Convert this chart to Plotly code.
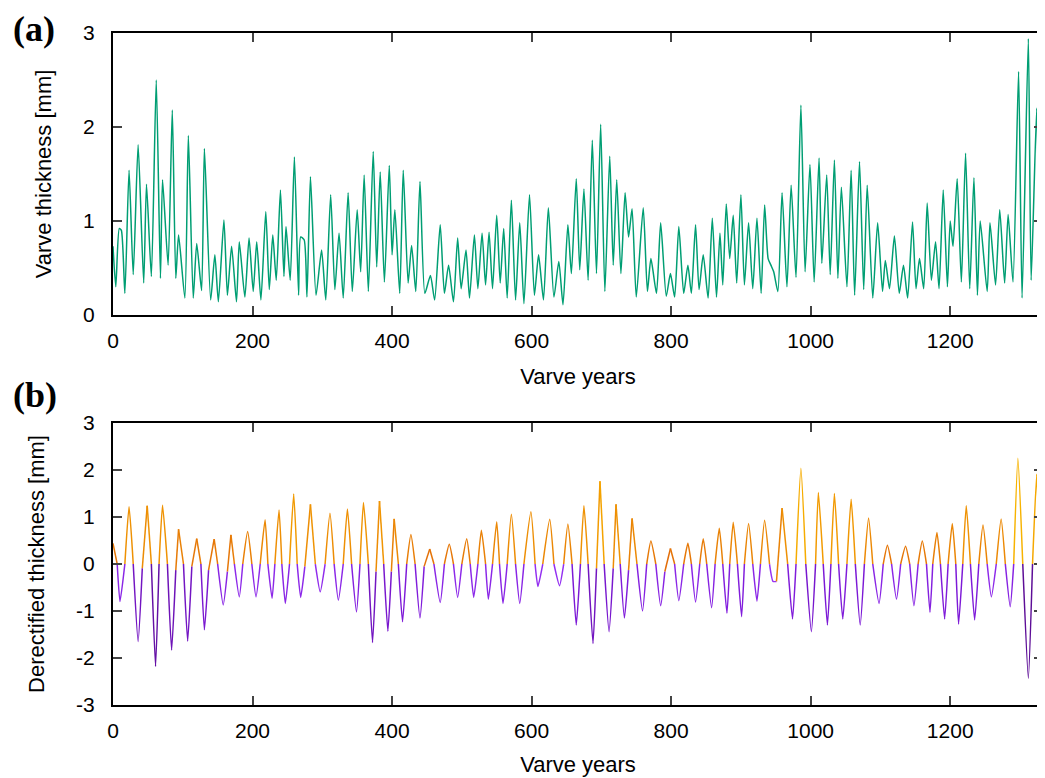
import plotly.graph_objects as go

# ---------------- data ----------------
years_a = [0, 4, 9, 12, 17, 23, 29, 36, 44, 48, 55, 62, 68, 71, 79, 85, 90, 94, 103, 108,
           115, 120, 127, 131, 140, 146, 151, 159, 164, 170, 177, 181, 189, 195, 201, 206,
           212, 219, 224, 229, 234, 240, 245, 248, 254, 260, 266, 269, 274, 278, 283, 291,
           299, 305, 312, 318, 324, 330, 337, 343, 350, 355, 360, 366, 373, 378, 383, 389,
           396, 400, 404, 411, 416, 423, 428, 434, 440, 447, 455, 461, 469, 475, 481, 488,
           494, 499, 506, 511, 518, 523, 529, 534, 539, 544, 550, 555, 560, 565, 571, 577,
           583, 589, 597, 604, 610, 617, 624, 632, 639, 645, 652, 657, 664, 669, 675, 681,
           687, 693, 699, 705, 712, 717, 722, 728, 734, 739, 744, 750, 760, 766, 771, 779,
           785, 793, 799, 805, 811, 818, 824, 829, 835, 840, 846, 853, 859, 865, 870, 874,
           879, 884, 889, 894, 900, 905, 911, 917, 923, 929, 934, 939, 943, 947, 953, 959,
           966, 972, 979, 986, 992, 999, 1005, 1012, 1016, 1023, 1028, 1034, 1039, 1044,
           1052, 1058, 1063, 1070, 1076, 1081, 1089, 1096, 1103, 1107, 1113, 1120, 1127,
           1133, 1139, 1146, 1151, 1156, 1162, 1167, 1173, 1179, 1184, 1190, 1196, 1200,
           1204, 1210, 1216, 1222, 1228, 1234, 1239, 1243, 1253, 1257, 1265, 1271, 1278,
           1283, 1290, 1298, 1303, 1312, 1316, 1324, 1328, 1332]
thick_a = [0.73, 0.30, 0.92, 0.90, 0.23, 1.54, 0.43, 1.81, 0.34, 1.39, 0.41, 2.50, 0.39, 1.44,
           0.53, 2.18, 0.39, 0.85, 0.18, 1.91, 0.18, 0.76, 0.26, 1.77, 0.16, 0.64, 0.14, 1.01,
           0.21, 0.73, 0.14, 0.78, 0.19, 0.82, 0.25, 0.78, 0.16, 1.10, 0.27, 0.85, 0.37, 1.33,
           0.41, 0.94, 0.37, 1.68, 0.21, 0.83, 0.80, 0.19, 1.47, 0.21, 0.69, 0.16, 1.28, 0.27,
           0.87, 0.18, 1.30, 0.25, 1.12, 0.46, 1.49, 0.25, 1.74, 0.51, 1.52, 0.35, 1.59, 0.64,
           1.12, 0.23, 1.54, 0.34, 0.74, 0.25, 1.42, 0.23, 0.42, 0.16, 0.96, 0.23, 0.53, 0.14,
           0.82, 0.28, 0.69, 0.18, 0.85, 0.28, 0.87, 0.32, 0.88, 0.28, 1.06, 0.34, 0.92, 0.18,
           1.22, 0.16, 0.98, 0.12, 1.28, 0.21, 0.64, 0.16, 1.14, 0.19, 0.57, 0.11, 0.96, 0.44,
           1.45, 0.48, 1.34, 0.37, 1.86, 0.44, 2.03, 0.25, 1.69, 0.53, 1.44, 0.44, 1.30, 0.83,
           1.13, 0.19, 1.14, 0.25, 0.60, 0.23, 0.98, 0.20, 0.44, 0.19, 0.94, 0.23, 0.53, 0.23,
           0.96, 0.27, 0.64, 0.18, 1.03, 0.19, 0.87, 0.32, 1.18, 0.60, 1.06, 0.34, 1.28, 0.32,
           0.98, 0.28, 1.03, 0.23, 1.17, 0.60, 0.53, 0.46, 0.25, 1.30, 0.30, 1.38, 0.40, 2.23,
           0.46, 1.60, 0.35, 1.67, 0.55, 1.49, 0.43, 1.65, 0.39, 1.36, 0.30, 1.54, 0.21, 1.63,
           0.27, 1.38, 0.18, 0.98, 0.25, 0.58, 0.28, 0.84, 0.23, 0.53, 0.18, 0.99, 0.28, 0.60,
           0.28, 1.19, 0.37, 0.78, 0.28, 1.33, 0.30, 1.00, 0.73, 1.45, 0.35, 1.72, 0.28, 1.46,
           0.21, 1.00, 0.25, 0.98, 0.32, 1.12, 0.34, 1.07, 0.35, 2.59, 0.18, 2.94, 0.37, 2.20,
           0.66, 1.40]

years_b = [0, 6, 10, 17, 23, 29, 36, 42, 49, 55, 61, 66, 71, 78, 84, 90, 94, 101, 107, 113,
           120, 126, 131, 137, 145, 150, 158, 164, 169, 174, 181, 186, 193, 199, 205, 211,
           218, 222, 228, 232, 238, 242, 247, 253, 259, 264, 269, 275, 283, 290, 297, 304,
           311, 317, 323, 330, 336, 342, 349, 354, 359, 366, 372, 377, 382, 388, 394, 399,
           403, 409, 415, 421, 427, 433, 440, 446, 454, 460, 469, 475, 482, 488, 494, 500,
           507, 512, 517, 523, 528, 534, 538, 544, 550, 554, 559, 565, 571, 577, 583, 589,
           599, 605, 609, 616, 626, 632, 640, 646, 652, 658, 664, 670, 675, 681, 688, 693,
           698, 704, 711, 717, 721, 727, 733, 739, 744, 751, 759, 765, 771, 778, 785, 791,
           799, 805, 811, 818, 824, 829, 835, 841, 846, 851, 858, 863, 869, 874, 880, 884,
           889, 895, 901, 905, 911, 917, 923, 928, 934, 941, 946, 951, 959, 967, 974, 979,
           986, 993, 1001, 1007, 1011, 1018, 1024, 1029, 1034, 1040, 1046, 1052, 1058, 1064,
           1071, 1077, 1083, 1089, 1098, 1104, 1110, 1116, 1123, 1129, 1136, 1142, 1148,
           1154, 1160, 1166, 1171, 1175, 1181, 1186, 1192, 1197, 1203, 1208, 1212, 1218,
           1223, 1229, 1235, 1241, 1247, 1253, 1259, 1266, 1273, 1279, 1286, 1291, 1297,
           1304, 1312, 1318, 1324, 1328, 1332]
detr_b = [0.44, 0.0, -0.80, 0.0, 1.22, 0.0, -1.65, -0.09, 1.24, 0.0, -2.18, 0.0, 1.25, 0.0,
          -1.83, -0.13, 0.74, 0.0, -1.64, -0.05, 0.54, 0.0, -1.40, -0.13, 0.53, 0.0, -0.87,
          -0.16, 0.62, 0.0, -0.70, 0.0, 0.69, 0.0, -0.70, 0.0, 0.94, 0.0, -0.73, 0.0, 1.15,
          0.0, -0.84, 0.0, 1.49, 0.0, -0.71, -0.05, 1.27, 0.0, -0.59, 0.0, 1.08, 0.0, -0.77,
          0.0, 1.17, 0.0, -1.02, 0.0, 1.31, 0.0, -1.67, -0.16, 1.34, 0.0, -1.43, -0.16, 0.96,
          0.0, -1.23, 0.0, 0.63, 0.0, -1.15, -0.05, 0.32, 0.0, -0.82, 0.0, 0.42, 0.0, -0.71,
          0.0, 0.54, 0.0, -0.71, 0.0, 0.72, 0.0, -0.75, 0.0, 0.90, 0.0, -0.84, 0.0, 1.06, 0.0,
          -0.84, 0.0, 1.11, 0.0, -0.48, 0.0, 0.95, 0.0, -0.46, 0.0, 0.85, 0.0, -1.30, 0.0,
          1.24, 0.0, -1.69, -0.09, 1.76, 0.0, -1.44, -0.09, 1.27, 0.0, -1.15, -0.13, 0.97, 0.0,
          -1.00, 0.0, 0.49, 0.0, -0.89, -0.16, 0.33, 0.0, -0.78, 0.0, 0.44, 0.0, -0.81, 0.0,
          0.54, 0.0, -0.93, 0.0, 0.76, 0.0, -1.05, 0.0, 0.89, 0.0, -1.12, 0.0, 0.86, 0.0, -0.79,
          0.0, 0.93, 0.0, -0.37, -0.37, 1.19, 0.0, -1.17, 0.0, 2.04, 0.0, -1.44, 0.0, 1.52, 0.0,
          -1.30, 0.0, 1.50, 0.0, -1.17, 0.0, 1.38, 0.0, -1.30, 0.0, 0.98, 0.0, -0.84, 0.0, 0.40,
          0.0, -0.75, 0.0, 0.38, 0.0, -0.89, 0.0, 0.49, 0.0, -1.03, 0.0, 0.67, 0.0, -1.17, 0.0,
          0.86, 0.0, -1.28, 0.0, 1.24, 0.0, -1.19, 0.0, 0.83, 0.0, -0.70, 0.0, 0.96, 0.0, -0.91,
          0.0, 2.25, 0.0, -2.43, 0.0, 1.91, 0.10, -0.65]

xticks = [0, 200, 400, 600, 800, 1000, 1200]
yticks_a = [0, 1, 2, 3]
yticks_b = [-3, -2, -1, 0, 1, 2, 3]

# ---------------- styling helpers ----------------
NEG_STOPS = [(-2.45, (45, 0, 55)), (-1.5, (85, 10, 135)), (-0.7, (125, 25, 215)), (0.0, (160, 60, 255))]
POS_STOPS = [(0.0, (225, 105, 10)), (1.0, (245, 165, 0)), (2.3, (255, 240, 0))]


def interp(stops, v):
    if v <= stops[0][0]:
        return stops[0][1]
    for (v0, c0), (v1, c1) in zip(stops[:-1], stops[1:]):
        if v <= v1:
            t = (v - v0) / (v1 - v0)
            return tuple(round(a + (b - a) * t) for a, b in zip(c0, c1))
    return stops[-1][1]


def color_for(v):
    c = interp(NEG_STOPS, v) if v < 0 else interp(POS_STOPS, v)
    return "rgb(%d,%d,%d)" % c


FONT = "Liberation Sans, Arial, sans-serif"
SERIF = "Liberation Serif, Times New Roman, serif"

fig = go.Figure()

fig.add_trace(go.Scatter(x=years_a, y=thick_a, mode="lines",
                         line=dict(color="#009e73", width=1.5, shape="spline", smoothing=0.6),
                         xaxis="x", yaxis="y", showlegend=False, hoverinfo="skip"))

# panel b: split into lobes between zero crossings, each coloured by its value
pieces = []
cur = [0]
for i in range(1, len(detr_b)):
    vp, v = detr_b[i - 1], detr_b[i]
    if vp != 0 and v != 0 and (vp > 0) != (v > 0):
        if len(cur) > 1:
            pieces.append(cur)
        pieces.append([i - 1, i])
        cur = [i]
        continue
    cur.append(i)
    if v == 0:
        pieces.append(cur)
        cur = [i]
if len(cur) > 1:
    pieces.append(cur)

for p in pieces:
    vals = [detr_b[j] for j in p]
    if len(p) == 2 and vals[0] * vals[1] < 0:
        level = 0.5 * (vals[0] + vals[1])
    else:
        ext = max(vals, key=abs)
        level = 0.55 * ext
        if level == 0:
            level = 0.01
    fig.add_trace(go.Scatter(x=[years_b[j] for j in p], y=vals, mode="lines",
                             line=dict(color=color_for(level), width=1.5,
                                       shape="spline", smoothing=0.5),
                             xaxis="x2", yaxis="y2", showlegend=False, hoverinfo="skip"))

axis_common = dict(showline=True, linecolor="black", linewidth=2, mirror="ticks",
                   ticks="inside", ticklen=9, tickwidth=1.5, tickcolor="#444",
                   showgrid=False, zeroline=False,
                   tickfont=dict(family=FONT, size=21, color="black"))

x_common = dict(axis_common, range=[0, 1333], tickvals=xticks,
                ticktext=[str(t) for t in xticks], ticklabelstandoff=6)

fig.update_layout(
    width=1037, height=770, autosize=False,
    margin=dict(l=105, r=0, t=25, b=73),
    paper_bgcolor="white", plot_bgcolor="white",
    xaxis=dict(x_common, domain=[0, 1], anchor="y",
               title=dict(text="Varve years", font=dict(family=FONT, size=22, color="black"),
                          standoff=17)),
    yaxis=dict(axis_common, domain=[0.5804, 1.0], range=[0, 3], tickvals=yticks_a,
               ticktext=[str(t) for t in yticks_a], ticklabelstandoff=12,
               title=dict(text="Varve thickness [mm]",
                          font=dict(family=FONT, size=22, color="black"), standoff=25)),
    xaxis2=dict(x_common, domain=[0, 1], anchor="y2",
                title=dict(text="Varve years", font=dict(family=FONT, size=22, color="black"),
                           standoff=15)),
    yaxis2=dict(axis_common, domain=[0.0, 0.4196], range=[-3, 3], tickvals=yticks_b,
                ticktext=[str(t) for t in yticks_b], ticklabelstandoff=12,
                title=dict(text="Derectified thickness [mm]",
                           font=dict(family=FONT, size=22, color="black"), standoff=25)),
    annotations=[
        dict(text="<b>(a)</b>", xref="paper", yref="paper", x=-0.109, y=1.0372,
             xanchor="left", yanchor="top", showarrow=False, borderpad=0,
             font=dict(family=SERIF, size=36, color="black")),
        dict(text="<b>(b)</b>", xref="paper", yref="paper", x=-0.109, y=0.461,
             xanchor="left", yanchor="middle", showarrow=False, borderpad=0,
             font=dict(family=SERIF, size=36, color="black")),
    ],
)

fig.write_html("out.html")
